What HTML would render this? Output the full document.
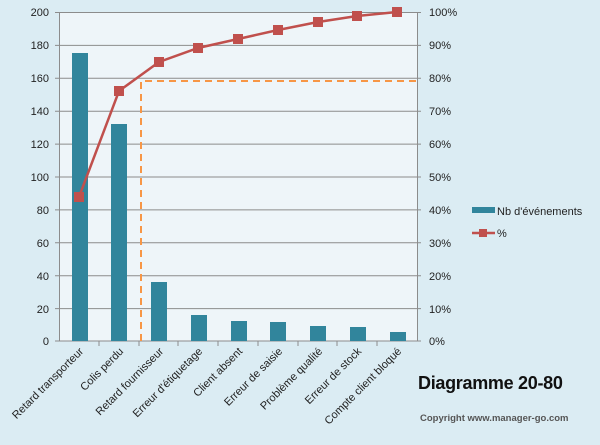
<!DOCTYPE html>
<html><head><meta charset="utf-8"><style>
body{margin:0;background:#dbecf3;}
svg{display:block;font-family:"Liberation Sans",sans-serif;}
</style></head><body>
<svg width="600" height="445" viewBox="0 0 600 445">
<rect width="600" height="445" fill="#dbecf3"/>
<rect x="59" y="12" width="358" height="329" fill="#eef5f9"/>
<g stroke="#8c8c8c" stroke-width="1">
<line x1="55" x2="421" y1="12.5" y2="12.5"/>
<line x1="55" x2="421" y1="45.4" y2="45.4"/>
<line x1="55" x2="421" y1="78.3" y2="78.3"/>
<line x1="55" x2="421" y1="111.2" y2="111.2"/>
<line x1="55" x2="421" y1="144.1" y2="144.1"/>
<line x1="55" x2="421" y1="177" y2="177"/>
<line x1="55" x2="421" y1="209.9" y2="209.9"/>
<line x1="55" x2="421" y1="242.8" y2="242.8"/>
<line x1="55" x2="421" y1="275.7" y2="275.7"/>
<line x1="55" x2="421" y1="308.6" y2="308.6"/>
<line x1="55" x2="421" y1="341" y2="341"/>
<line x1="59.5" x2="59.5" y1="12" y2="341"/>
<line x1="417.5" x2="417.5" y1="12" y2="341"/>
</g>
<g stroke="#8c8c8c"><line x1="99" x2="99" y1="341" y2="346"/><line x1="139" x2="139" y1="341" y2="346"/><line x1="178" x2="178" y1="341" y2="346"/><line x1="218" x2="218" y1="341" y2="346"/><line x1="258" x2="258" y1="341" y2="346"/><line x1="298" x2="298" y1="341" y2="346"/><line x1="337" x2="337" y1="341" y2="346"/><line x1="377" x2="377" y1="341" y2="346"/></g>
<g fill="#31859c">
<rect x="72" y="53" width="16" height="288"/>
<rect x="111" y="124" width="16" height="217"/>
<rect x="151" y="282" width="16" height="59"/>
<rect x="191" y="315" width="16" height="26"/>
<rect x="231" y="321" width="16" height="20"/>
<rect x="270" y="322" width="16" height="19"/>
<rect x="310" y="326" width="16" height="15"/>
<rect x="350" y="327" width="16" height="14"/>
<rect x="390" y="332" width="16" height="9"/>
</g>
<g stroke="#f79646" stroke-width="2" stroke-dasharray="7,5" fill="none">
<path d="M141 341 V81 H419"/>
</g>
<polyline fill="none" stroke="#c0504d" stroke-width="2.5" points="79,197 119,91 159,62 198,48 238,39 278,30 318,22 357,16 397,12"/>
<g fill="#c0504d">
<rect x="74" y="192" width="10" height="10"/><rect x="114" y="86" width="10" height="10"/><rect x="154" y="57" width="10" height="10"/><rect x="193" y="43" width="10" height="10"/><rect x="233" y="34" width="10" height="10"/><rect x="273" y="25" width="10" height="10"/><rect x="313" y="17" width="10" height="10"/><rect x="352" y="11" width="10" height="10"/><rect x="392" y="7" width="10" height="10"/>
</g>
<g font-size="11" fill="#222" text-anchor="end">
<text x="49" y="16">200</text><text x="49" y="49">180</text><text x="49" y="82">160</text><text x="49" y="115">140</text><text x="49" y="148">120</text><text x="49" y="181">100</text><text x="49" y="214">80</text><text x="49" y="247">60</text><text x="49" y="280">40</text><text x="49" y="313">20</text><text x="49" y="345">0</text>
</g>
<g font-size="11" fill="#222">
<text x="429" y="16">100%</text><text x="429" y="49">90%</text><text x="429" y="82">80%</text><text x="429" y="115">70%</text><text x="429" y="148">60%</text><text x="429" y="181">50%</text><text x="429" y="214">40%</text><text x="429" y="247">30%</text><text x="429" y="280">20%</text><text x="429" y="313">10%</text><text x="429" y="345">0%</text>
</g>
<g font-size="11" fill="#222" text-anchor="end">
<text transform="translate(84,352) rotate(-45)">Retard transporteur</text>
<text transform="translate(124,352) rotate(-45)">Colis perdu</text>
<text transform="translate(164,352) rotate(-45)">Retard fournisseur</text>
<text transform="translate(203,352) rotate(-45)">Erreur d'étiquetage</text>
<text transform="translate(243,352) rotate(-45)">Client absent</text>
<text transform="translate(283,352) rotate(-45)">Erreur de saisie</text>
<text transform="translate(323,352) rotate(-45)">Problème qualité</text>
<text transform="translate(362,352) rotate(-45)">Erreur de stock</text>
<text transform="translate(402,352) rotate(-45)">Compte client bloqué</text>
</g>
<rect x="472" y="207" width="23" height="6" fill="#31859c"/>
<text x="497" y="215" font-size="11" fill="#222">Nb d'événements</text>
<line x1="472" x2="495" y1="233" y2="233" stroke="#c0504d" stroke-width="2.5"/>
<rect x="479" y="229" width="8" height="8" fill="#c0504d"/>
<text x="497" y="237" font-size="11" fill="#222">%</text>
<text x="418" y="389" font-size="18" font-weight="bold" fill="#111" letter-spacing="-0.3">Diagramme 20-80</text>
<text x="420" y="421" font-size="9.5" font-weight="bold" fill="#555">Copyright  www.manager-go.com</text>
</svg>
</body></html>
